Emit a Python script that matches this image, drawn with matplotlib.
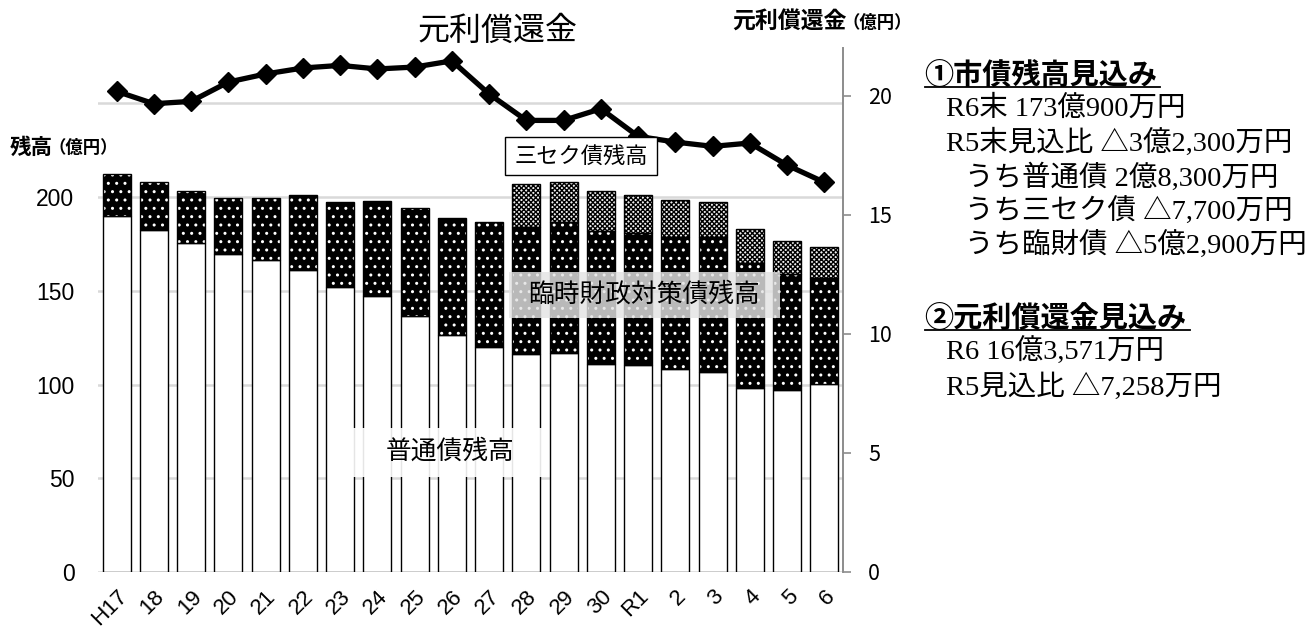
import matplotlib
matplotlib.use("Agg")
import matplotlib.pyplot as plt
from matplotlib.patches import Rectangle
from matplotlib.lines import Line2D
import numpy as np

plt.rcParams['font.family'] = ['Noto Sans CJK JP', 'DejaVu Sans']
plt.rcParams['hatch.linewidth'] = 1.0

years = ['H17', '18', '19', '20', '21', '22', '23', '24', '25', '26',
         '27', '28', '29', '30', 'R1', '2', '3', '4', '5', '6']
futsu = [189.9, 182.4, 175.6, 169.6, 166.2, 161.1, 151.8, 147.2, 136.7, 126.4,
         120.2, 116.1, 117.0, 110.9, 110.2, 108.4, 106.5, 98.3, 97.3, 100.1]
rinzai = [22.4, 25.4, 27.8, 29.7, 33.1, 39.8, 45.5, 50.8, 57.4, 62.2,
          66.3, 68.1, 69.5, 71.0, 70.4, 70.1, 72.0, 66.7, 61.9, 56.6]
sanseku = [0, 0, 0, 0, 0, 0, 0, 0, 0, 0,
           0, 22.6, 21.7, 21.5, 20.6, 19.7, 19.0, 18.1, 17.2, 16.4]
repay = [20.18, 19.66, 19.76, 20.57, 20.91, 21.16, 21.27, 21.12, 21.20, 21.46,
         20.07, 18.96, 18.96, 19.45, 18.29, 18.05, 17.87, 18.01, 17.08, 16.36]
left_ticks = [0, 50, 100, 150, 200]
grid_vals = [0, 50, 100, 150, 200, 250]
right_ticks = [0, 5, 10, 15, 20]

W, H = 1316, 629
fig = plt.figure(figsize=(W / 100, H / 100), dpi=100)

def fx(px):
    return px / W

def fy(py):
    return 1 - py / H

ax = fig.add_axes([fx(98), fy(572), fx(843) - fx(98), fy(48) - fy(572)])
ax2 = ax.twinx()

x = np.arange(len(years))
bw = 0.75
futsu_a = np.array(futsu)
rinzai_a = np.array(rinzai)
sanseku_a = np.array(sanseku)

# gridlines
for g in grid_vals:
    ax.axhline(g, color='#d9d9d9', lw=1.8, zorder=0)

# 普通債
ax.bar(x, futsu_a, bw, color='white', edgecolor='black', lw=1.0, zorder=2)
# 臨財債 (black with white dots)
ax.bar(x, rinzai_a, bw, bottom=futsu_a, color='black', edgecolor='white',
       hatch='..', lw=0, zorder=2)
ax.bar(x, rinzai_a, bw, bottom=futsu_a, fill=False, edgecolor='black', lw=1.0, zorder=3)
# 三セク債
mask = sanseku_a > 0
ax.bar(x[mask], sanseku_a[mask], bw, bottom=(futsu_a + rinzai_a)[mask],
       color='#f0f0f0', edgecolor='black', hatch='xxxxxxx', lw=0, zorder=2)
ax.bar(x[mask], sanseku_a[mask], bw, bottom=(futsu_a + rinzai_a)[mask],
       fill=False, edgecolor='black', lw=1.0, zorder=3)

ax.set_xlim(-0.5, len(years) - 0.5)
ax.set_ylim(0, 279.5)
ax.set_yticks(left_ticks)
ax.set_yticklabels([str(v) for v in left_ticks], fontsize=16.5,
                   family=['Liberation Sans', 'DejaVu Sans'])
ax.tick_params(axis='y', length=0, pad=17)
ax.set_xticks(x)
ax.set_xticklabels(years, rotation=45, ha='right', va='top',
                   rotation_mode='anchor', fontsize=16,
                   family=['Liberation Sans', 'DejaVu Sans'])
ax.tick_params(axis='x', length=0, pad=10)
for s in ax.spines.values():
    s.set_visible(False)

# line
ax2.plot(x, repay, color='black', lw=3.8, marker='D', markersize=10,
         markerfacecolor='black', markeredgecolor='black', zorder=5)
ax2.set_ylim(0, 22)
ax2.set_yticks(right_ticks)
ax2.set_yticklabels([str(v) for v in right_ticks], fontsize=15.5)
ax2.tick_params(axis='y', length=6, width=1.2, color='#8c8c8c', pad=12)
for k, s in ax2.spines.items():
    s.set_visible(k == 'right')
ax2.spines['right'].set_color('#8c8c8c')
ax2.spines['right'].set_linewidth(1.4)

# axis titles
fig.text(fx(10), fy(147), '残高', fontsize=15.5, fontweight='bold', va='center', ha='left')
fig.text(fx(49), fy(148), '（億円）', fontsize=12.5, fontweight='bold', va='center', ha='left')
fig.text(fx(732), fy(22), '元利償還金', fontsize=16.5, fontweight='bold', va='center', ha='left')
fig.text(fx(842), fy(23), '（億円）', fontsize=12.5, fontweight='bold', va='center', ha='left')

fig.text(fx(497), fy(31), '元利償還金', fontsize=23, va='center', ha='center')

# label boxes
def box(x0, y0, x1, y1, fc, ec, alpha, lw):
    r = Rectangle((fx(x0), fy(y1)), fx(x1) - fx(x0), fy(y0) - fy(y1),
                  transform=fig.transFigure, facecolor=fc, edgecolor=ec,
                  alpha=alpha, lw=lw, zorder=10)
    fig.add_artist(r)

box(505, 137, 657, 175, 'white', 'black', 1.0, 1.0)
fig.text(fx(581), fy(156), '三セク債残高', fontsize=16, va='center', ha='center', zorder=11)
box(509, 272, 780, 318, '#e3e3e3', 'none', 0.82, 0)
fig.text(fx(644), fy(295), '臨時財政対策債残高', fontsize=18.5, va='center', ha='center', zorder=11)
box(352, 428, 549, 477, 'white', 'none', 0.9, 0)
fig.text(fx(450), fy(452), '普通債残高', fontsize=18.5, va='center', ha='center', zorder=11)

# right text block
serif = ['Liberation Serif', 'Noto Sans CJK JP']
fig.text(fx(924), fy(75), '①市債残高見込み', fontsize=21, fontweight='bold', va='center', ha='left')
fig.add_artist(Line2D([fx(925), fx(1160)], [fy(87), fy(87)], transform=fig.transFigure,
                      color='black', lw=1.3))
lines1 = [(946, 109, 'R6末 173億900万円'),
          (946, 143, 'R5末見込比 △3億2,300万円'),
          (965, 178, 'うち普通債 2億8,300万円'),
          (965, 212, 'うち三セク債 △7,700万円'),
          (965, 245, 'うち臨財債 △5億2,900万円')]
for px_, py_, t in lines1:
    fig.text(fx(px_), fy(py_), t, fontsize=20.5, family=serif, va='center', ha='left')

fig.text(fx(924), fy(318), '②元利償還金見込み', fontsize=21, fontweight='bold', va='center', ha='left')
fig.add_artist(Line2D([fx(925), fx(1190)], [fy(330), fy(330)], transform=fig.transFigure,
                      color='black', lw=1.3))
lines2 = [(946, 352, 'R6 16億3,571万円'),
          (946, 387, 'R5見込比 △7,258万円')]
for px_, py_, t in lines2:
    fig.text(fx(px_), fy(py_), t, fontsize=20.5, family=serif, va='center', ha='left')

fig.savefig('out.png', dpi=100)
